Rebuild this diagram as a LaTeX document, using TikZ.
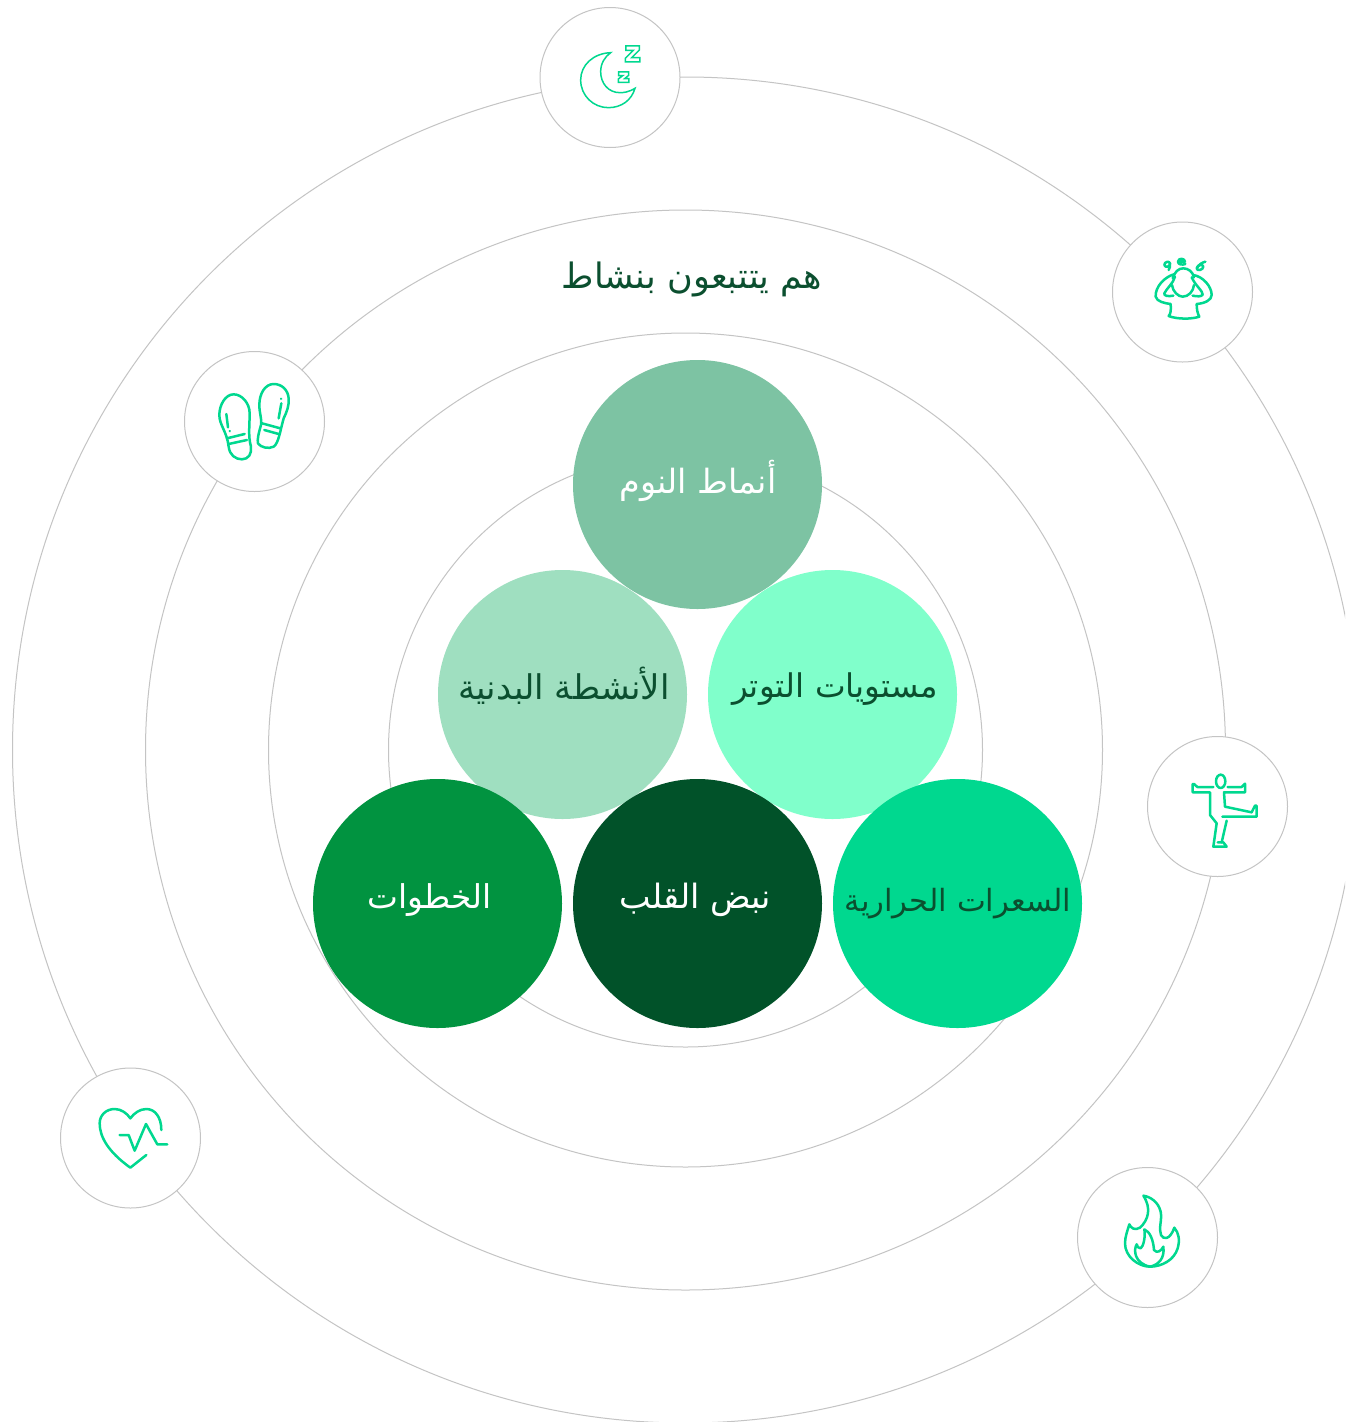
\documentclass[tikz,border=0pt]{standalone}
\usepackage{fontspec}
\TeXXeTstate=1
\newfontfamily\arabicfont[Script=Arabic]{DejaVu Sans}
\definecolor{ringc}{HTML}{C4C4C4}
\definecolor{iconc}{HTML}{00D88F}
\definecolor{cA}{HTML}{7DC3A3}
\definecolor{cB}{HTML}{9FDFC0}
\definecolor{cC}{HTML}{80FFCB}
\definecolor{cD}{HTML}{019340}
\definecolor{cE}{HTML}{015229}
\definecolor{darktxt}{HTML}{0B4F2F}
\tikzset{
 ringline/.style={draw=ringc,line width=1pt},
 badge/.style={circle,draw=ringc,line width=1pt,fill=white,minimum size=140pt,inner sep=0pt},
 ball/.style={circle,minimum size=249pt,inner sep=0pt,align=center},
 lbl/.style={font=\arabicfont\fontsize{#1}{40}\selectfont,inner sep=0pt},
 icon/.style={draw=iconc,line width=2.5pt,line join=round,line cap=round},
 thinicon/.style={draw=iconc,line width=1.5pt,line join=miter},
}
\begin{document}
\begin{tikzpicture}[x=1pt,y=-1pt]
\useasboundingbox (0,0) rectangle (1345,1422);
\clip (0,0) rectangle (1345,1422);
\fill[white] (0,0) rectangle (1345,1422);
\coordinate (ctr) at (685.5,750);
\draw[ringline] (ctr) circle[radius=297];
\draw[ringline] (ctr) circle[radius=417];
\draw[ringline] (ctr) circle[radius=540];
\draw[ringline] (ctr) circle[radius=673];
\node[badge] (sleep) at (610,77.5) {};
\node[badge] (stress) at (1182.5,292) {};
\node[badge] (steps) at (254.5,421.5) {};
\node[badge] (yoga) at (1217.5,806.5) {};
\node[badge] (heart) at (130.5,1138) {};
\node[badge] (fire) at (1147.5,1237.5) {};
\node[ball,fill=cA] (ballA) at (697.5,484.5) {};
\node[ball,fill=cB] (ballB) at (562.5,694.5) {};
\node[ball,fill=cC] (ballC) at (832.5,694.5) {};
\node[ball,fill=cD] (ballD) at (437.5,903.5) {};
\node[ball,fill=cE] (ballE) at (697.5,903.5) {};
\node[ball,fill=iconc] (ballF) at (957.5,903.5) {};
\node[lbl=35,text=darktxt] (title) at (692,279) {\beginR هم يتتبعون بنشاط\endR};
\node[lbl=33.4,text=white] (tA) at (698,481) {\beginR أنماط النوم\endR};
\node[lbl=34,text=darktxt] (tB) at (564,686) {\beginR الأنشطة البدنية\endR};
\node[lbl=32.6,text=darktxt] (tC) at (835,689) {\beginR مستويات التوتر\endR};
\node[lbl=32.8,text=white] (tD) at (430,900) {\beginR الخطوات\endR};
\node[lbl=33.5,text=white] (tE) at (695,900) {\beginR نبض القلب\endR};
\node[lbl=30.6,text=darktxt] (tF) at (958,904) {\beginR السعرات الحرارية\endR};
% moon
\begin{scope}[shift={(540,5)},scale=0.3333]
\draw[thinicon] (212,143) .. controls (160,145) and (122,180) .. (122,225) .. controls (122,272) and (160,308) .. (205,308) .. controls (245,308) and (275,285) .. (285,250) .. controls (265,262) and (250,263) .. (240,263) .. controls (205,263) and (182,235) .. (182,200) .. controls (182,175) and (195,155) .. (212,143) -- cycle;
\draw[thinicon] (258,123) -- (298,123) -- (298,135) -- (275,158) -- (300,158) -- (300,171) -- (256,171) -- (256,160) -- (280,136) -- (258,136) -- cycle;
\draw[thinicon] (236,201) -- (266,201) -- (266,211) -- (254,221) -- (267,221) -- (267,232) -- (235,232) -- (235,222) -- (248,212) -- (236,212) -- cycle;
\end{scope}
% stress
\begin{scope}[shift={(1110,220)},scale=0.3333]
\draw[icon] (188,175) .. controls (195,155) and (205,145) .. (220,145) .. controls (235,145) and (248,155) .. (252,172);
\draw[icon] (186,195) .. controls (188,215) and (205,230) .. (218,230) .. controls (235,230) and (250,215) .. (252,195);
\draw[icon] (192,163) .. controls (165,170) and (135,200) .. (137,230) .. controls (140,245) and (165,250) .. (182,252) .. controls (183,270) and (183,280) .. (176,288) .. controls (200,298) and (245,298) .. (268,290) .. controls (262,280) and (260,265) .. (260,252) .. controls (285,250) and (305,240) .. (305,225) .. controls (305,200) and (280,170) .. (250,165);
\draw[icon] (195,170) .. controls (190,190) and (170,205) .. (163,220) .. controls (161,228) and (175,230) .. (190,227);
\draw[icon] (245,172) .. controls (255,195) and (280,215) .. (278,224) .. controls (275,230) and (262,230) .. (248,227);
\draw[icon] (163,135) .. controls (163,125) and (178,122) .. (180,130) .. controls (182,140) and (165,145) .. (163,135);
\draw[icon] (180,130) .. controls (182,138) and (178,145) .. (176,150);
\draw[icon] (205,125) -- (225,125) .. controls (225,115) and (205,112) .. (204,125) .. controls (204,135) and (218,135) .. (226,132);
\draw[icon] (260,145) .. controls (262,135) and (278,130) .. (280,140) .. controls (280,150) and (260,155) .. (260,145);
\draw[icon] (262,143) .. controls (265,135) and (275,128) .. (286,125);
\end{scope}
% steps
\begin{scope}[shift={(182,350)},scale=0.3333]
\draw[icon] (155,133) .. controls (130,133) and (112,165) .. (112,195) .. controls (112,225) and (135,245) .. (140,290) .. controls (143,315) and (160,328) .. (180,328) .. controls (200,328) and (210,310) .. (207,290) .. controls (198,260) and (203,225) .. (203,190) .. controls (203,160) and (180,133) .. (155,133) -- cycle;
\draw[icon] (135,265) -- (188,252);
\draw[icon] (140,282) -- (195,270);
\draw[icon] (133,192) -- (138,232);
\draw[icon] (143,243) -- (143.5,243.5);
\draw[icon] (275,102) .. controls (250,102) and (232,130) .. (232,165) .. controls (232,190) and (240,205) .. (237,225) .. controls (230,250) and (225,270) .. (228,280) .. controls (235,292) and (260,298) .. (275,290) .. controls (290,280) and (295,240) .. (305,205) .. controls (315,185) and (322,165) .. (320,145) .. controls (318,120) and (300,102) .. (275,102) -- cycle;
\draw[icon] (240,220) -- (295,235);
\draw[icon] (247,240) -- (290,252);
\draw[icon] (290,205) -- (298,160);
\draw[icon] (297,146) -- (297.5,146.5);
\end{scope}
% yoga
\begin{scope}[shift={(1145,735)},scale=0.3333]
\draw[icon] (227,139) ellipse[x radius=14,y radius=20];
\draw[icon] (205,156) -- (157,156) -- (147,147) -- (143,147) -- (143,172) -- (195,172) -- (195,240) -- (215,265) -- (205,335) -- (245,335) -- (235,322) -- (218,322);
\draw[icon] (248,156) -- (290,156) -- (300,146) -- (300,172) -- (237,172) -- (240,215) -- (320,232) -- (330,212) -- (335,212) -- (335,245) -- (232,245);
\draw[icon] (245,257) -- (230,322);
\end{scope}
% heart
\begin{scope}[shift={(58,1065)},scale=0.3333]
\draw[icon] (265,270) -- (217,308) .. controls (150,260) and (125,215) .. (125,175) .. controls (125,150) and (145,132) .. (170,132) .. controls (190,132) and (207,145) .. (217,160) .. controls (228,145) and (245,132) .. (265,132) .. controls (290,132) and (310,155) .. (310,195);
\draw[icon] (185,210) -- (212,210) -- (230,257) -- (264,177) -- (298,238) -- (328,238);
\end{scope}
% fire
\begin{scope}[shift={(1075,1165)},scale=0.3333]
\draw[icon] (205,92) .. controls (225,95) and (250,110) .. (257,140) .. controls (262,165) and (250,190) .. (258,210) .. controls (265,225) and (285,225) .. (298,188) .. controls (312,205) and (315,225) .. (308,250) .. controls (298,285) and (260,305) .. (225,305) .. controls (190,305) and (150,275) .. (150,235) .. controls (150,215) and (158,195) .. (163,178) .. controls (168,190) and (180,197) .. (195,188) .. controls (220,165) and (230,130) .. (205,92) -- cycle;
\draw[icon] (225,305) .. controls (250,300) and (270,280) .. (265,245) .. controls (258,260) and (245,265) .. (237,255) .. controls (235,225) and (225,200) .. (208,193) .. controls (212,215) and (205,245) .. (197,250) .. controls (190,250) and (187,245) .. (185,238) .. controls (175,255) and (178,295) .. (225,305);
\end{scope}
\end{tikzpicture}
\end{document}
